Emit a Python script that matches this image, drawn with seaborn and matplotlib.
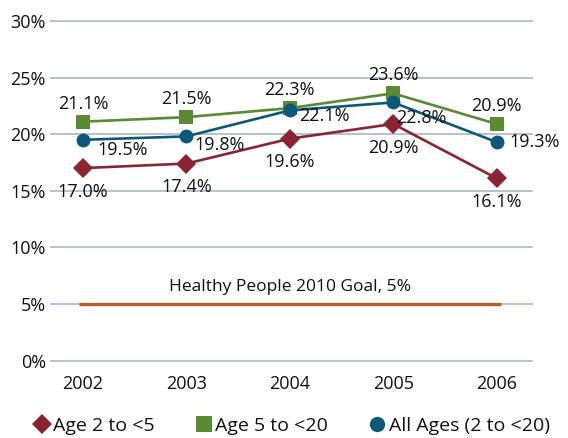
import matplotlib
matplotlib.use("Agg")
import matplotlib.pyplot as plt
from matplotlib.lines import Line2D
import seaborn as sns
import pandas as pd

years = ["2002", "2003", "2004", "2005", "2006"]
age_2_to_5 = [17.0, 17.4, 19.6, 20.9, 16.1]
age_5_to_20 = [21.1, 21.5, 22.3, 23.6, 20.9]
all_ages = [19.5, 19.8, 22.1, 22.8, 19.3]
goal = 5.0
series_names = ["Age 2 to <5", "Age 5 to <20", "All Ages (2 to <20)"]
y_ticks = [0, 5, 10, 15, 20, 25, 30]

colors = {"Age 2 to <5": "#8A2434", "Age 5 to <20": "#5A8A34", "All Ages (2 to <20)": "#0D5878"}
markers = {"Age 2 to <5": "D", "Age 5 to <20": "s", "All Ages (2 to <20)": "o"}
goal_color = "#B4602A"
text_color = "#111111"

sns.set_theme(style="white")
plt.rcParams["font.family"] = ["Open Sans", "DejaVu Sans"]

rows = []
for name, vals in zip(series_names, [age_2_to_5, age_5_to_20, all_ages]):
    for i, v in enumerate(vals):
        rows.append({"idx": i, "value": v, "series": name})
df = pd.DataFrame(rows)

fig = plt.figure(figsize=(5.68, 4.38), dpi=100)
ax = fig.add_axes([0.088, 0.169, 0.85, 0.791])

for y in y_ticks:
    ax.axhline(y, color="#B3BCCB", lw=1.3, zorder=0)

# goal reference line
ax.plot([-0.04, 4.04], [goal, goal], color=goal_color, lw=2.4, solid_capstyle="butt", zorder=2)
ax.text(2, goal + 1.5, "Healthy People 2010 Goal, 5%", ha="center", va="center",
        fontsize=12.5, color=text_color)

sns.lineplot(data=df, x="idx", y="value", hue="series", style="series",
             palette=colors, markers=markers, dashes=False, lw=1.9,
             markersize=10, markeredgewidth=0, legend=False, ax=ax, zorder=3)

# value labels
green_off = [(0, 13)] * 5
blue_off = [(10, -7), (6, -6), (6.5, -4), (2, -11), (9, 0)]
red_off = [(0, -17)] * 5
for i in range(5):
    ax.annotate(f"{age_5_to_20[i]:.1f}%", (i, age_5_to_20[i]), xytext=green_off[i],
                textcoords="offset points", ha="center", va="center", fontsize=13, color=text_color)
    ax.annotate(f"{all_ages[i]:.1f}%", (i, all_ages[i]), xytext=blue_off[i],
                textcoords="offset points", ha="left", va="center", fontsize=13, color=text_color)
    ax.annotate(f"{age_2_to_5[i]:.1f}%", (i, age_2_to_5[i]), xytext=red_off[i],
                textcoords="offset points", ha="center", va="center", fontsize=13, color=text_color)

ax.set_xlim(-0.32, 4.35)
ax.set_ylim(-0.3, 30.3)
ax.set_xticks(range(len(years)))
ax.set_xticklabels(years, fontsize=13, color=text_color)
ax.set_yticks(y_ticks)
ax.set_yticklabels([f"{t}%" for t in y_ticks], fontsize=13, color=text_color)
ax.tick_params(axis="both", length=0, pad=3)
ax.tick_params(axis="x", pad=8)
ax.set_xlabel("")
ax.set_ylabel("")
sns.despine(ax=ax, left=True, bottom=True)

handles = [Line2D([], [], ls="none", marker=markers[n], color=colors[n],
                  markersize=11 if markers[n] != "D" else 10, markeredgewidth=0)
           for n in series_names]
fig.legend(handles, series_names, loc="center", bbox_to_anchor=(0.512, 1 - 426 / 438),
           ncol=3, frameon=False, fontsize=14, handletextpad=0.1, columnspacing=2.0,
           handlelength=1.0, labelcolor=text_color)

fig.savefig("out.png", dpi=100)
